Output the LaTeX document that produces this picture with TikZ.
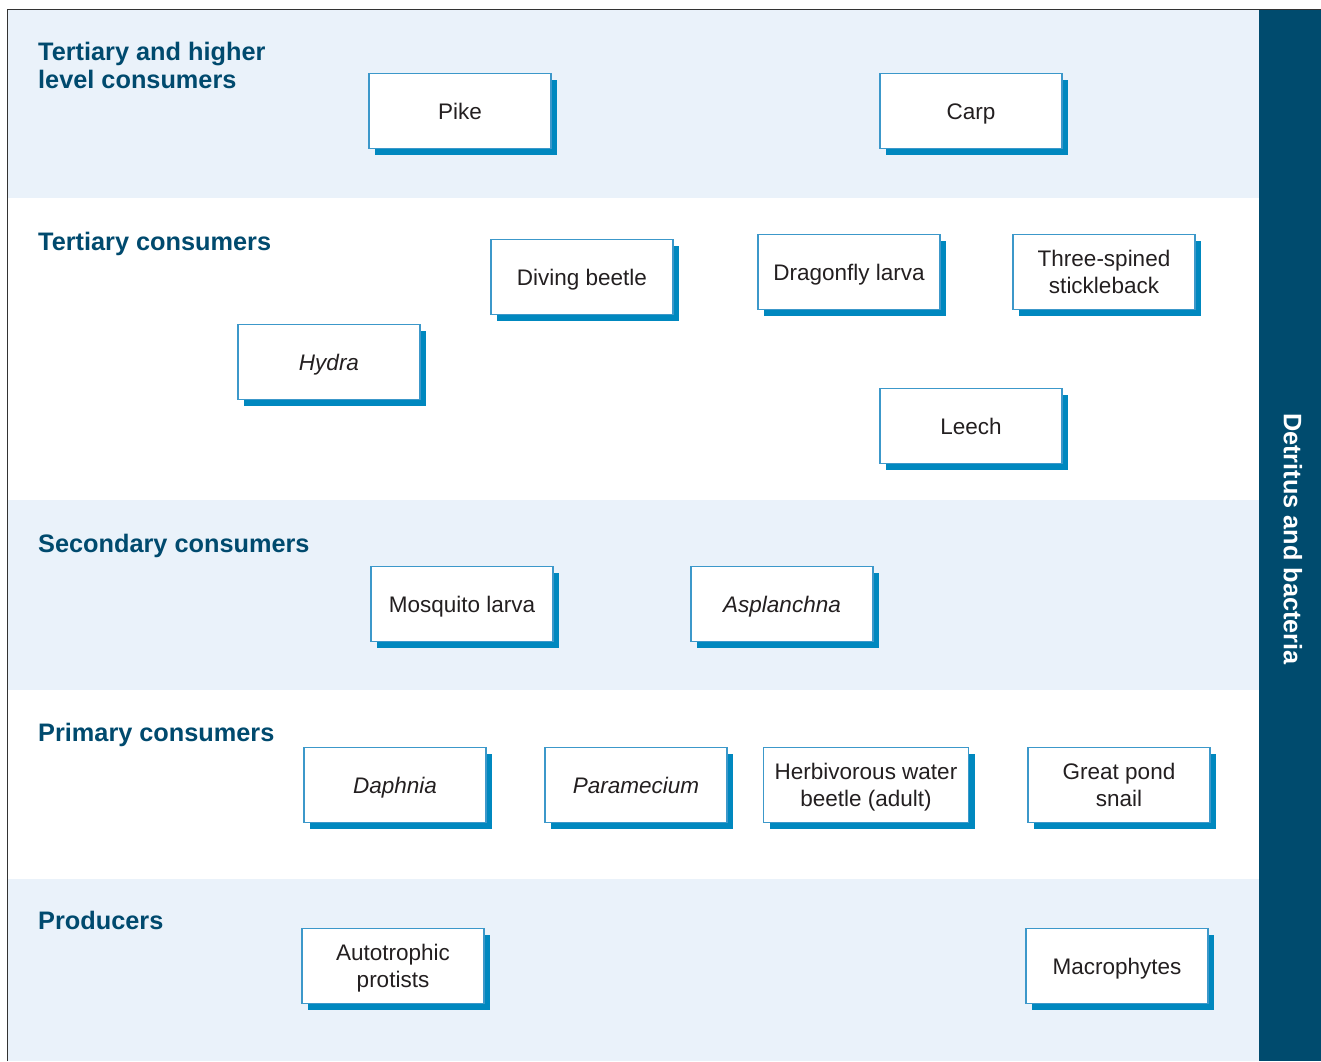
\documentclass[tikz,border=0pt]{standalone}
\usepackage{fontspec}
\setmainfont{Liberation Sans}
\usetikzlibrary{shadows}
\definecolor{bandblue}{HTML}{EAF2FA}
\definecolor{headblue}{HTML}{004A6E}
\definecolor{barblue}{HTML}{004B6E}
\definecolor{edgeblue}{HTML}{3C98CA}
\definecolor{shadeblue}{HTML}{0088BF}
\definecolor{inkgrey}{HTML}{231F20}
\definecolor{framegrey}{HTML}{333333}
\tikzset{
  organism/.style = {draw=edgeblue, line width=1.2pt, fill=white,
    minimum width=182pt, minimum height=75pt, inner sep=0pt, align=center,
    text=inkgrey, font=\fontsize{22.5}{27}\selectfont,
    text height=16.1pt, text depth=0pt,
    drop shadow={shadow xshift=6pt, shadow yshift=-6pt, fill=shadeblue, opacity=1}},
  twoline/.style = {text height=},
  tierlabel/.style = {anchor=base west, inner sep=0pt, align=left,
    text=headblue, font=\fontsize{25.3}{28.5}\selectfont\bfseries}
}
\begin{document}
\begin{tikzpicture}[x=1pt, y=-1pt]
\useasboundingbox (0,0) rectangle (1321,1061);
\fill[white] (0,0) rectangle (1321,1061);
\fill[bandblue] (8,10) rectangle (1259,198);
\fill[bandblue] (8,500) rectangle (1259,690);
\fill[bandblue] (8,879) rectangle (1259,1061);
\fill[barblue] (1259,10) rectangle (1321,1061);
\draw[framegrey, line width=1.5pt] (7.5,1061) -- (7.5,9.5) -- (1321,9.5);
\node[rotate=-90, text=white, font=\fontsize{25.3}{28.5}\selectfont\bfseries] (detritus) at (1293,539) {Detritus and bacteria};

\node[tierlabel] (higher) at (38,88.5) {Tertiary and higher\\level consumers};
\node[tierlabel] (tertiary) at (38,250) {Tertiary consumers};
\node[tierlabel] (secondary) at (38,552) {Secondary consumers};
\node[tierlabel] (primary) at (38,741) {Primary consumers};
\node[tierlabel] (producers) at (38,929) {Producers};

\node[organism] (pike) at (460,111) {Pike};
\node[organism] (carp) at (971,111) {Carp};
\node[organism] (beetle) at (582,277) {Diving beetle};
\node[organism] (dragonfly) at (849,272) {Dragonfly larva};
\node[organism, twoline] (stickleback) at (1104,272) {Three-spined\\stickleback};
\node[organism] (hydra) at (329,362) {\itshape Hydra};
\node[organism] (leech) at (971,426) {Leech};
\node[organism] (mosquito) at (462,604) {Mosquito larva};
\node[organism] (asplanchna) at (782,604) {\itshape Asplanchna};
\node[organism] (daphnia) at (395,785) {\itshape Daphnia};
\node[organism] (paramecium) at (636,785) {\itshape Paramecium};
\node[organism, twoline, minimum width=205pt] (waterbeetle) at (866,785) {Herbivorous water\\beetle (adult)};
\node[organism, twoline] (snail) at (1119,785) {Great pond\\snail};
\node[organism, twoline] (protists) at (393,966) {Autotrophic\\protists};
\node[organism] (macrophytes) at (1117,966) {Macrophytes};
\end{tikzpicture}
\end{document}
